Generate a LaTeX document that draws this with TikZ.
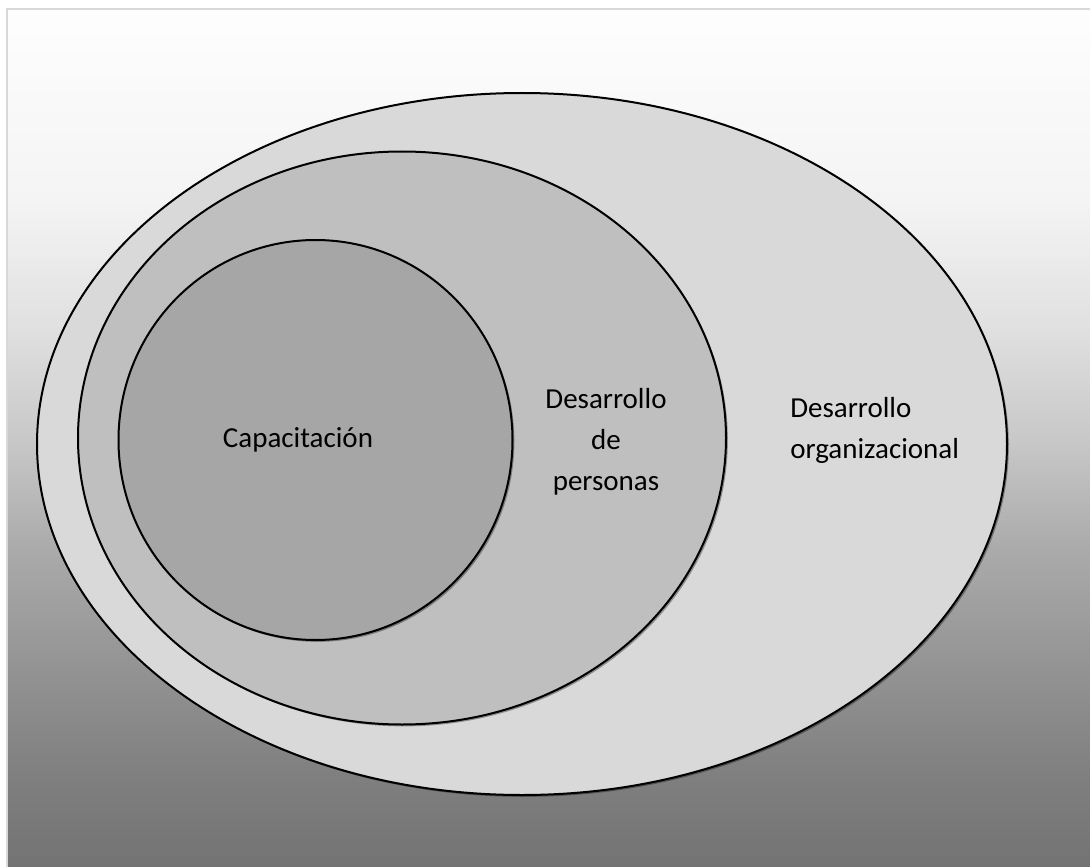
\documentclass[tikz,border=0pt]{standalone}
\usepackage{fontspec}
\setmainfont{Carlito}
\usetikzlibrary{shapes.geometric,shadows}
\pgfdeclareverticalshading{bgshade}{100bp}{gray(0bp)=(0.451); gray(25bp)=(0.451); gray(30.66bp)=(0.502); gray(37.08bp)=(0.584); gray(43.49bp)=(0.667); gray(49.91bp)=(0.784); gray(56.33bp)=(0.878); gray(63.91bp)=(0.957); gray(75bp)=(0.995); gray(100bp)=(0.995)}
\definecolor{outerfill}{HTML}{D9D9D9}
\definecolor{midfill}{HTML}{BFBFBF}
\definecolor{innerfill}{HTML}{A6A6A6}
\definecolor{framecol}{HTML}{D9D9D9}
\begin{document}
\begin{tikzpicture}[x=0.75pt,y=-0.75pt,
  setshape/.style={ellipse, draw=black, line width=1.5pt, inner sep=0pt, outer sep=0pt,
    drop shadow={shadow xshift=1.4pt, shadow yshift=-1.4pt, fill=black, opacity=0.35}},
  lbl/.style={font=\fontsize{21.75}{30.75}\selectfont, text=black, inner sep=0pt}]
\useasboundingbox (0,0) rectangle (1090,867);
% background
\shade[shading=bgshade] (8,10) rectangle (1090,867);
\draw[framecol, line width=1.5pt] (7,867) -- (7,9) -- (1090,9);
% sets
\node[setshape, fill=outerfill, minimum width=727.5pt, minimum height=526.5pt] (outer) at (522,444) {};
\node[setshape, fill=midfill, minimum width=486pt, minimum height=429.75pt] (middle) at (402,438) {};
\node[setshape, fill=innerfill, minimum width=295.5pt, minimum height=300pt] (inner) at (315.5,440) {};
% labels
\node[lbl, anchor=base] (cap) at (298,447) {Capacitación};
\node[lbl, align=center] (dp) at (606,442) {Desarrollo\\de\\personas};
\node[lbl, align=left, anchor=west] (do) at (790,430.5) {Desarrollo\\organizacional};
\end{tikzpicture}
\end{document}
